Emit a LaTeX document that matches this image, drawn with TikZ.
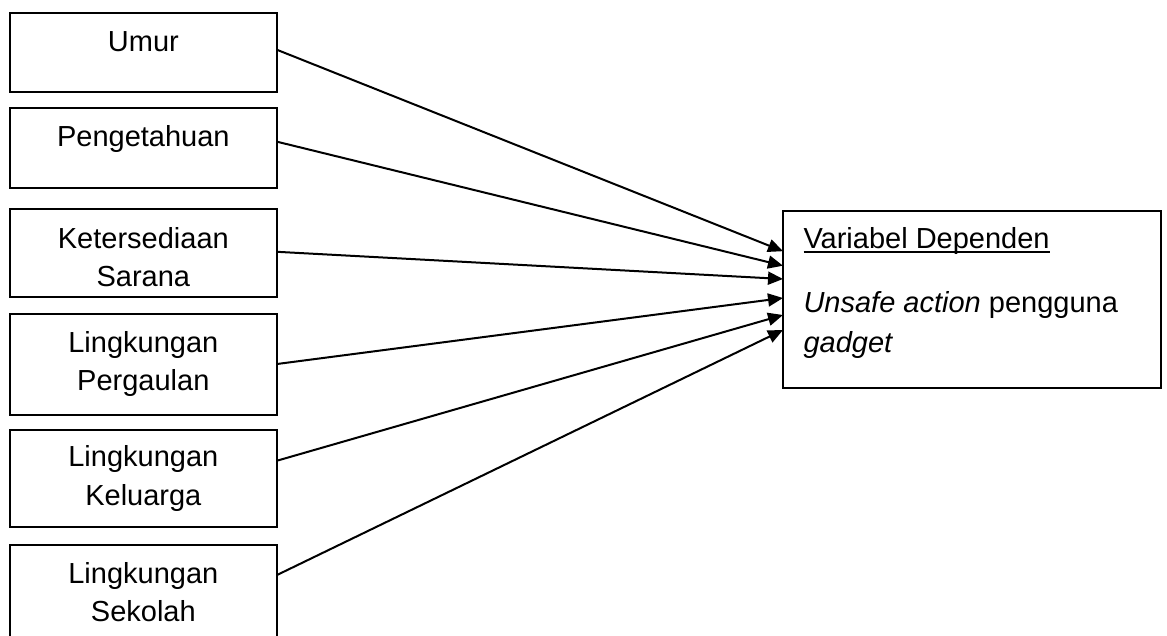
\documentclass[tikz,border=0pt]{standalone}
\usepackage{fontspec}
\setmainfont{Liberation Sans}
\usetikzlibrary{arrows.meta}
\newcommand\myul[1]{\setbox0\hbox{#1}\rlap{\rule[-5.3pt]{\wd0}{2pt}}\box0}
\newcommand\lbtext[3]{\parbox[t][#1][t]{267.3pt}{\centering\rule{0pt}{#2}#3}}
\tikzset{
  lbox/.style={draw, line width=2pt, rectangle, inner sep=0pt, outer sep=0pt, anchor=north west,
    font=\fontsize{29pt}{38.3pt}\selectfont},
  rbox/.style={draw, line width=2pt, rectangle, inner sep=0pt, outer sep=0pt, anchor=north west,
    font=\fontsize{29pt}{40pt}\selectfont},
  conn/.style={line width=2pt, -{Triangle[length=15pt,width=13pt]}}
}
\begin{document}
\begin{tikzpicture}[x=1pt,y=-1pt]
\useasboundingbox (0,0) rectangle (1167,635);
\clip (0,0) rectangle (1167,635);
\node[lbox] (umur) at (9.7,12.7) {\lbtext{79.3pt}{39pt}{Umur}};
\node[lbox] (peng) at (9.7,108) {\lbtext{79.5pt}{38.7pt}{Pengetahuan}};
\node[lbox] (sar) at (9.7,209) {\lbtext{88pt}{39pt}{Ketersediaan\\Sarana}};
\node[lbox] (perg) at (9.7,313.5) {\lbtext{101pt}{38.8pt}{Lingkungan\\Pergaulan}};
\node[lbox] (kel) at (9.7,429.5) {\lbtext{97pt}{37.2pt}{Lingkungan\\Keluarga}};
\node[lbox] (sek) at (9.7,544.7) {\lbtext{120pt}{38.6pt}{Lingkungan\\Sekolah}};
\node[rbox] (dep) at (783,210.7) {\parbox[t][177.3pt][t]{378pt}{\raggedright\leftskip=20.5pt
  \rule{0pt}{37.3pt}\myul{Variabel Dependen}\par\vspace{24pt}\textit{Unsafe action} pengguna\\\textit{gadget}}};
\draw[conn] ([yshift=-37.1pt]umur.north east) -- ([yshift=-40.5pt]dep.north west);
\draw[conn] ([yshift=-33.7pt]peng.north east) -- ([yshift=-55pt]dep.north west);
\draw[conn] ([yshift=-42.8pt]sar.north east) -- ([yshift=-68.3pt]dep.north west);
\draw[conn] ([yshift=-50.5pt]perg.north east) -- ([yshift=-87.3pt]dep.north west);
\draw[conn] ([yshift=-31.2pt]kel.north east) -- ([yshift=-104.3pt]dep.north west);
\draw[conn] ([yshift=-30.3pt]sek.north east) -- ([yshift=-119.3pt]dep.north west);
\end{tikzpicture}
\end{document}
